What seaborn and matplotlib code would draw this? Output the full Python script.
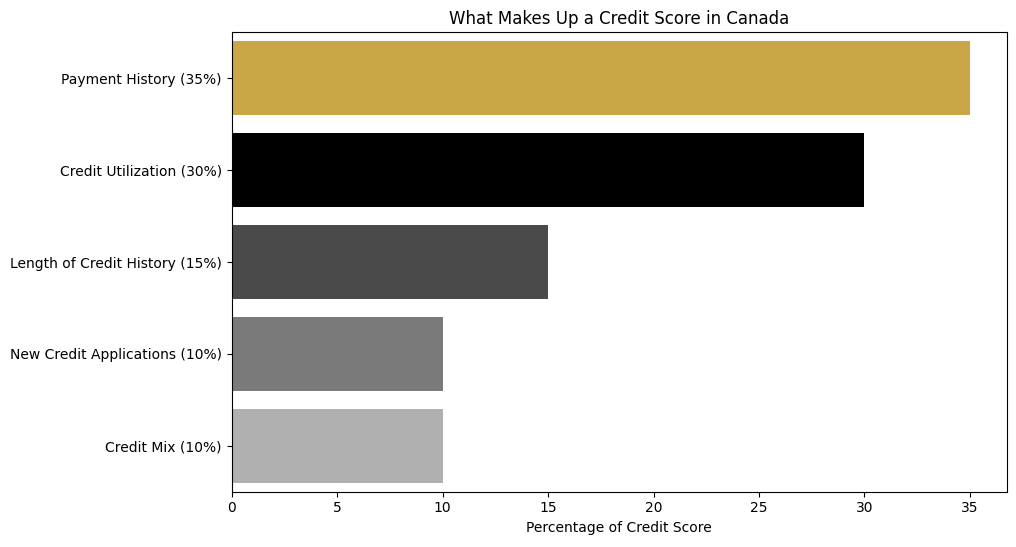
import matplotlib
matplotlib.use("Agg")
import matplotlib.pyplot as plt
import seaborn as sns
import pandas as pd

# ── Data ──────────────────────────────────────────────
factors = [
    "Payment History (35%)",
    "Credit Utilization (30%)",
    "Length of Credit History (15%)",
    "New Credit Applications (10%)",
    "Credit Mix (10%)",
]
percentages = [35, 30, 15, 10, 10]
colors = ["#C9A747", "#000000", "#4A4A4A", "#7A7A7A", "#B0B0B0"]

df = pd.DataFrame({"Factor": factors, "Percent": percentages})

fig, ax = plt.subplots(figsize=(10.16, 5.47), dpi=100)
sns.barplot(data=df, x="Percent", y="Factor", hue="Factor",
            palette=colors, legend=False, width=0.8, saturation=1, ax=ax)
ax.set_title("What Makes Up a Credit Score in Canada")
ax.set_xlabel("Percentage of Credit Score")
ax.set_ylabel("")
fig.subplots_adjust(left=0.228, right=0.991, top=0.941, bottom=0.101)
plt.savefig("out.png", dpi=100)
